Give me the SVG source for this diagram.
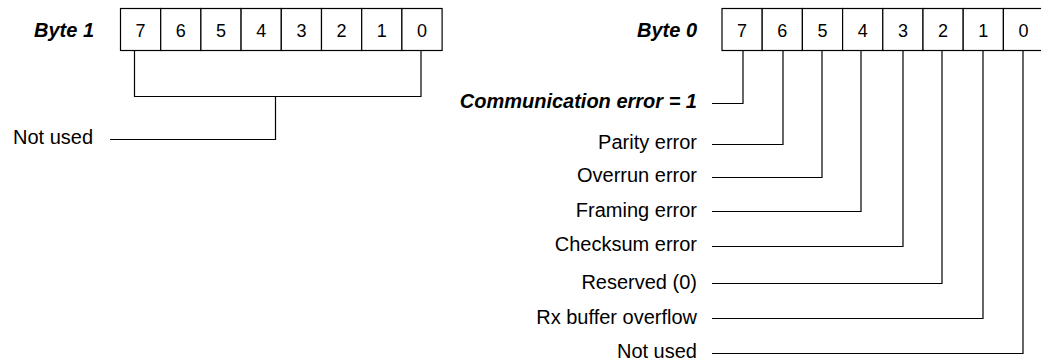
<svg xmlns="http://www.w3.org/2000/svg" width="1041" height="360" viewBox="0 0 1041 360">
<style>
.bg{fill:#fff}
.cell{fill:#fff;stroke:#000;stroke-width:1.2}
.dig{font-family:"Liberation Sans",Arial,sans-serif;font-size:18px;fill:#000;text-anchor:middle}
.lbl{font-family:"Liberation Sans",Arial,sans-serif;font-size:20px;fill:#000;text-anchor:end}
.ttl{font-family:"Liberation Sans",Arial,sans-serif;font-size:20px;font-weight:bold;font-style:italic;fill:#000;text-anchor:end}
.ln{fill:none;stroke:#000;stroke-width:1.2}
</style>
<rect class="bg" x="0" y="0" width="1041" height="360"/>

<g id="byte1">
  <text class="ttl" x="94" y="37">Byte 1</text>
  <rect class="cell" x="120.5" y="8.5" width="40.2" height="42"/>
  <rect class="cell" x="160.7" y="8.5" width="40.2" height="42"/>
  <rect class="cell" x="200.9" y="8.5" width="40.2" height="42"/>
  <rect class="cell" x="241.1" y="8.5" width="40.2" height="42"/>
  <rect class="cell" x="281.3" y="8.5" width="40.2" height="42"/>
  <rect class="cell" x="321.5" y="8.5" width="40.2" height="42"/>
  <rect class="cell" x="361.7" y="8.5" width="40.2" height="42"/>
  <rect class="cell" x="401.9" y="8.5" width="40.2" height="42"/>
  <text class="dig" x="140.6" y="36.5">7</text>
  <text class="dig" x="180.8" y="36.5">6</text>
  <text class="dig" x="221" y="36.5">5</text>
  <text class="dig" x="261.2" y="36.5">4</text>
  <text class="dig" x="301.4" y="36.5">3</text>
  <text class="dig" x="341.6" y="36.5">2</text>
  <text class="dig" x="381.8" y="36.5">1</text>
  <text class="dig" x="422" y="36.5">0</text>
</g>

<g id="byte0">
  <text class="ttl" x="697" y="37">Byte 0</text>
  <rect class="cell" x="722" y="8.5" width="40.2" height="42"/>
  <rect class="cell" x="762.2" y="8.5" width="40.2" height="42"/>
  <rect class="cell" x="802.4" y="8.5" width="40.2" height="42"/>
  <rect class="cell" x="842.6" y="8.5" width="40.2" height="42"/>
  <rect class="cell" x="882.8" y="8.5" width="40.2" height="42"/>
  <rect class="cell" x="923" y="8.5" width="40.2" height="42"/>
  <rect class="cell" x="963.2" y="8.5" width="40.2" height="42"/>
  <rect class="cell" x="1003.4" y="8.5" width="40.2" height="42"/>
  <text class="dig" x="742.1" y="36.5">7</text>
  <text class="dig" x="782.3" y="36.5">6</text>
  <text class="dig" x="822.5" y="36.5">5</text>
  <text class="dig" x="862.7" y="36.5">4</text>
  <text class="dig" x="902.9" y="36.5">3</text>
  <text class="dig" x="943.1" y="36.5">2</text>
  <text class="dig" x="983.3" y="36.5">1</text>
  <text class="dig" x="1023.5" y="36.5">0</text>
</g>

<g id="label-byte1-notused"><text class="lbl" x="13" y="144" style="text-anchor:start">Not used</text></g>
<g id="label-comm"><text class="ttl" x="697" y="108">Communication error = 1</text></g>
<g id="label-parity"><text class="lbl" x="697" y="149">Parity error</text></g>
<g id="label-overrun"><text class="lbl" x="697" y="182">Overrun error</text></g>
<g id="label-framing"><text class="lbl" x="697" y="216.5">Framing error</text></g>
<g id="label-checksum"><text class="lbl" x="697" y="251">Checksum error</text></g>
<g id="label-reserved"><text class="lbl" x="697" y="288.5">Reserved (0)</text></g>
<g id="label-rx"><text class="lbl" x="697" y="323.5">Rx buffer overflow</text></g>
<g id="label-notused0"><text class="lbl" x="697" y="358">Not used</text></g>

<g id="connectors">
  <path class="ln" d="M134.5 50.5 V96.5 H421 V50.5"/>
  <path class="ln" d="M275.5 96.5 V139.5 H110"/>
  <path class="ln" d="M712 103.5 H743 V50.5"/>
  <path class="ln" d="M712 144.5 H783 V50.5"/>
  <path class="ln" d="M712 177.5 H822 V50.5"/>
  <path class="ln" d="M712 211.5 H861 V50.5"/>
  <path class="ln" d="M712 246.5 H903 V50.5"/>
  <path class="ln" d="M712 283.5 H942 V50.5"/>
  <path class="ln" d="M712 318.5 H983 V50.5"/>
  <path class="ln" d="M712 353.5 H1023 V50.5"/>
</g>
</svg>
